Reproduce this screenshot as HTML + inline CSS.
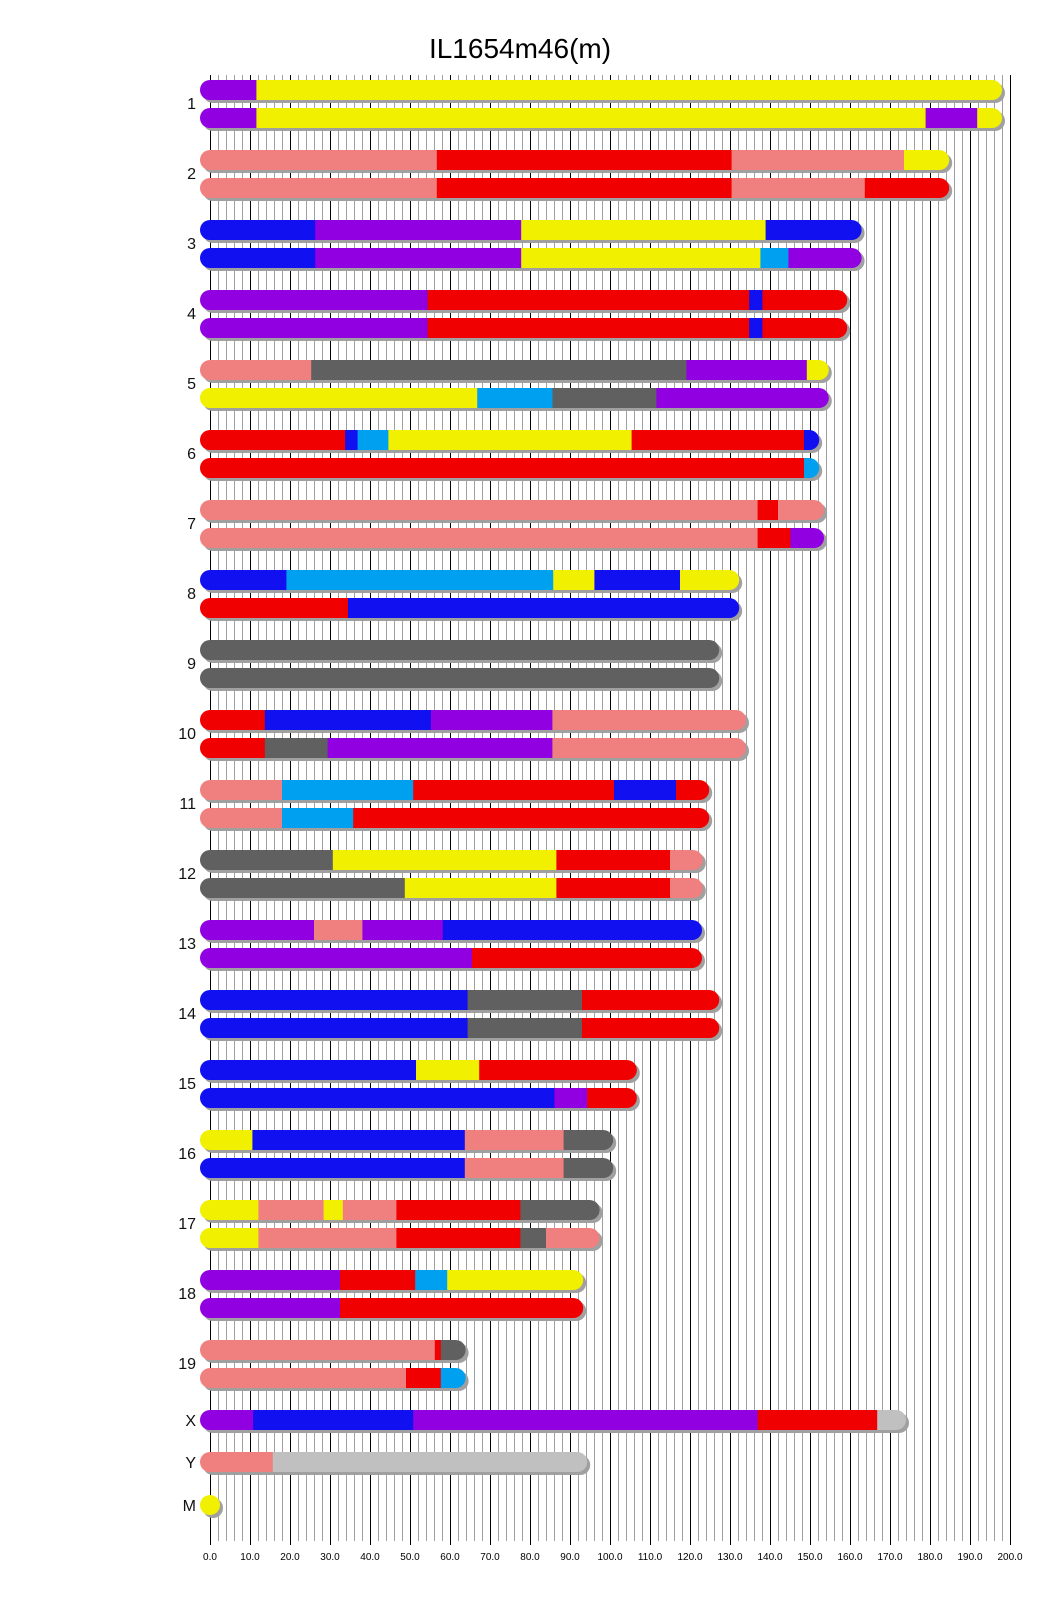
<!DOCTYPE html>
<html><head><meta charset="utf-8">
<style>
html,body{margin:0;padding:0;background:#fff;}
svg{display:block;font-family:"Liberation Sans",sans-serif;}
</style></head>
<body>
<svg id="s" width="1040" height="1616" xmlns="http://www.w3.org/2000/svg">
<g id="grid"></g>
<g id="bars"></g>
<text x="520" y="58" font-size="28" text-anchor="middle" fill="#000">IL1654m46(m)</text>
<g font-size="16" text-anchor="end" fill="#111">
<text x="196" y="109">1</text><text x="196" y="179">2</text><text x="196" y="249">3</text><text x="196" y="319">4</text>
<text x="196" y="389">5</text><text x="196" y="459">6</text><text x="196" y="529">7</text><text x="196" y="599">8</text>
<text x="196" y="669">9</text><text x="196" y="739">10</text><text x="196" y="809">11</text><text x="196" y="879">12</text>
<text x="196" y="949">13</text><text x="196" y="1019">14</text><text x="196" y="1089">15</text><text x="196" y="1159">16</text>
<text x="196" y="1229">17</text><text x="196" y="1299">18</text><text x="196" y="1369">19</text><text x="196" y="1426">X</text>
<text x="196" y="1468">Y</text><text x="196" y="1511">M</text>
</g>
<g font-size="10" text-anchor="middle" fill="#000">
<text x="210" y="1560">0.0</text><text x="250" y="1560">10.0</text><text x="290" y="1560">20.0</text><text x="330" y="1560">30.0</text>
<text x="370" y="1560">40.0</text><text x="410" y="1560">50.0</text><text x="450" y="1560">60.0</text><text x="490" y="1560">70.0</text>
<text x="530" y="1560">80.0</text><text x="570" y="1560">90.0</text><text x="610" y="1560">100.0</text><text x="650" y="1560">110.0</text>
<text x="690" y="1560">120.0</text><text x="730" y="1560">130.0</text><text x="770" y="1560">140.0</text><text x="810" y="1560">150.0</text>
<text x="850" y="1560">160.0</text><text x="890" y="1560">170.0</text><text x="930" y="1560">180.0</text><text x="970" y="1560">190.0</text>
<text x="1010" y="1560">200.0</text>
</g>
</svg>
<script>
var NS="http://www.w3.org/2000/svg";
function el(p,t,a){var e=document.createElementNS(NS,t);for(var k in a)e.setAttribute(k,a[k]);p.appendChild(e);return e;}
var g=document.getElementById('grid');
for(var i=0;i<=100;i++){var x=210+i*8+0.5;var blk=i%5==0;
 el(g,'line',{x1:x,x2:x,y1:75,y2:blk?1545:1541,stroke:blk?'#000':'#a0a0a0','stroke-width':1});}
var C={P:'#9000e0',Y:'#f0f000',K:'#f08080',R:'#f00000',B:'#1010f0',L:'#00a0f0',G:'#606060',S:'#c0c0c0'};
var data=[
[[[11.6,'P'],[195.5,'Y']],[[11.6,'P'],[178.9,'Y'],[191.8,'P'],[195.5,'Y']]],
[[[56.7,'K'],[130.4,'R'],[173.5,'K'],[182.3,'Y']],[[56.7,'K'],[130.4,'R'],[163.7,'K'],[182.3,'R']]],
[[[26.3,'B'],[77.8,'P'],[138.9,'Y'],[160.4,'B']],[[26.3,'B'],[77.8,'P'],[137.6,'Y'],[144.6,'L'],[160.4,'P']]],
[[[54.4,'P'],[134.8,'R'],[138.1,'B'],[156.8,'R']],[[54.4,'P'],[134.8,'R'],[138.1,'B'],[156.8,'R']]],
[[[25.3,'K'],[119.1,'G'],[149.2,'P'],[152.2,'Y']],[[66.8,'Y'],[85.6,'L'],[111.6,'G'],[152.2,'P']]],
[[[33.8,'R'],[36.9,'B'],[44.6,'L'],[105.4,'Y'],[148.5,'R'],[149.8,'B']],[[148.5,'R'],[149.8,'L']]],
[[[136.9,'K'],[142,'R'],[151,'K']],[[136.9,'K'],[145.1,'R'],[151,'P']]],
[[[19.1,'B'],[85.8,'L'],[96.1,'Y'],[117.5,'B'],[129.8,'Y']],[[34.5,'R'],[129.8,'B']]],
[[[124.8,'G']],[[124.8,'G']]],
[[[13.7,'R'],[55.2,'B'],[85.6,'P'],[131.5,'K']],[[13.7,'R'],[29.4,'G'],[85.6,'P'],[131.5,'K']]],
[[[18,'K'],[50.8,'L'],[101,'R'],[116.5,'B'],[122.3,'R']],[[18,'K'],[35.8,'L'],[122.3,'R']]],
[[[30.7,'G'],[86.6,'Y'],[115,'R'],[120.7,'K']],[[48.7,'G'],[86.6,'Y'],[115,'R'],[120.7,'K']]],
[[[26,'P'],[38.1,'K'],[58.2,'P'],[120.5,'B']],[[65.5,'P'],[120.5,'R']]],
[[[64.4,'B'],[93,'G'],[124.8,'R']],[[64.4,'B'],[93,'G'],[124.8,'R']]],
[[[51.5,'B'],[67.3,'Y'],[104.2,'R']],[[86.1,'B'],[94.3,'P'],[104.2,'R']]],
[[[10.6,'Y'],[63.7,'B'],[88.4,'K'],[98.3,'G']],[[63.7,'B'],[88.4,'K'],[98.3,'G']]],
[[[12.1,'Y'],[28.4,'K'],[33.2,'Y'],[46.6,'K'],[77.6,'R'],[94.9,'G']],[[12.1,'Y'],[46.6,'K'],[77.6,'R'],[84,'G'],[94.9,'K']]],
[[[32.5,'P'],[51.3,'R'],[59.3,'L'],[90.8,'Y']],[[32.5,'P'],[90.8,'R']]],
[[[56.2,'K'],[57.7,'R'],[61.4,'G']],[[49,'K'],[57.7,'R'],[61.4,'L']]]
];
var b=document.getElementById('bars');
function bar(y,segs){
 var x0=210,x1=210+segs[segs.length-1][0]*4;
 el(b,'rect',{x:x0-10+3,y:y+3,width:x1-x0+20,height:20,rx:10,fill:'#a0a0a0'});
 el(b,'circle',{cx:x0,cy:y+10,r:10,fill:C[segs[0][1]]});
 el(b,'circle',{cx:x1,cy:y+10,r:10,fill:C[segs[segs.length-1][1]]});
 var s=0;segs.forEach(function(sg){var e=sg[0];el(b,'rect',{x:210+s*4,y:y,width:(e-s)*4+0.5,height:20,fill:C[sg[1]]});s=e;});
}
data.forEach(function(p,i){var t=80+i*70;bar(t,p[0]);bar(t+28,p[1]);});
bar(1410,[[10.8,'P'],[50.8,'B'],[136.9,'P'],[166.8,'R'],[171.5,'S']]);
bar(1452,[[15.7,'K'],[91.8,'S']]);
el(b,'circle',{cx:213,cy:1508,r:10,fill:'#a0a0a0'});
el(b,'circle',{cx:210,cy:1505,r:10,fill:C.Y});
</script>
</body></html>
